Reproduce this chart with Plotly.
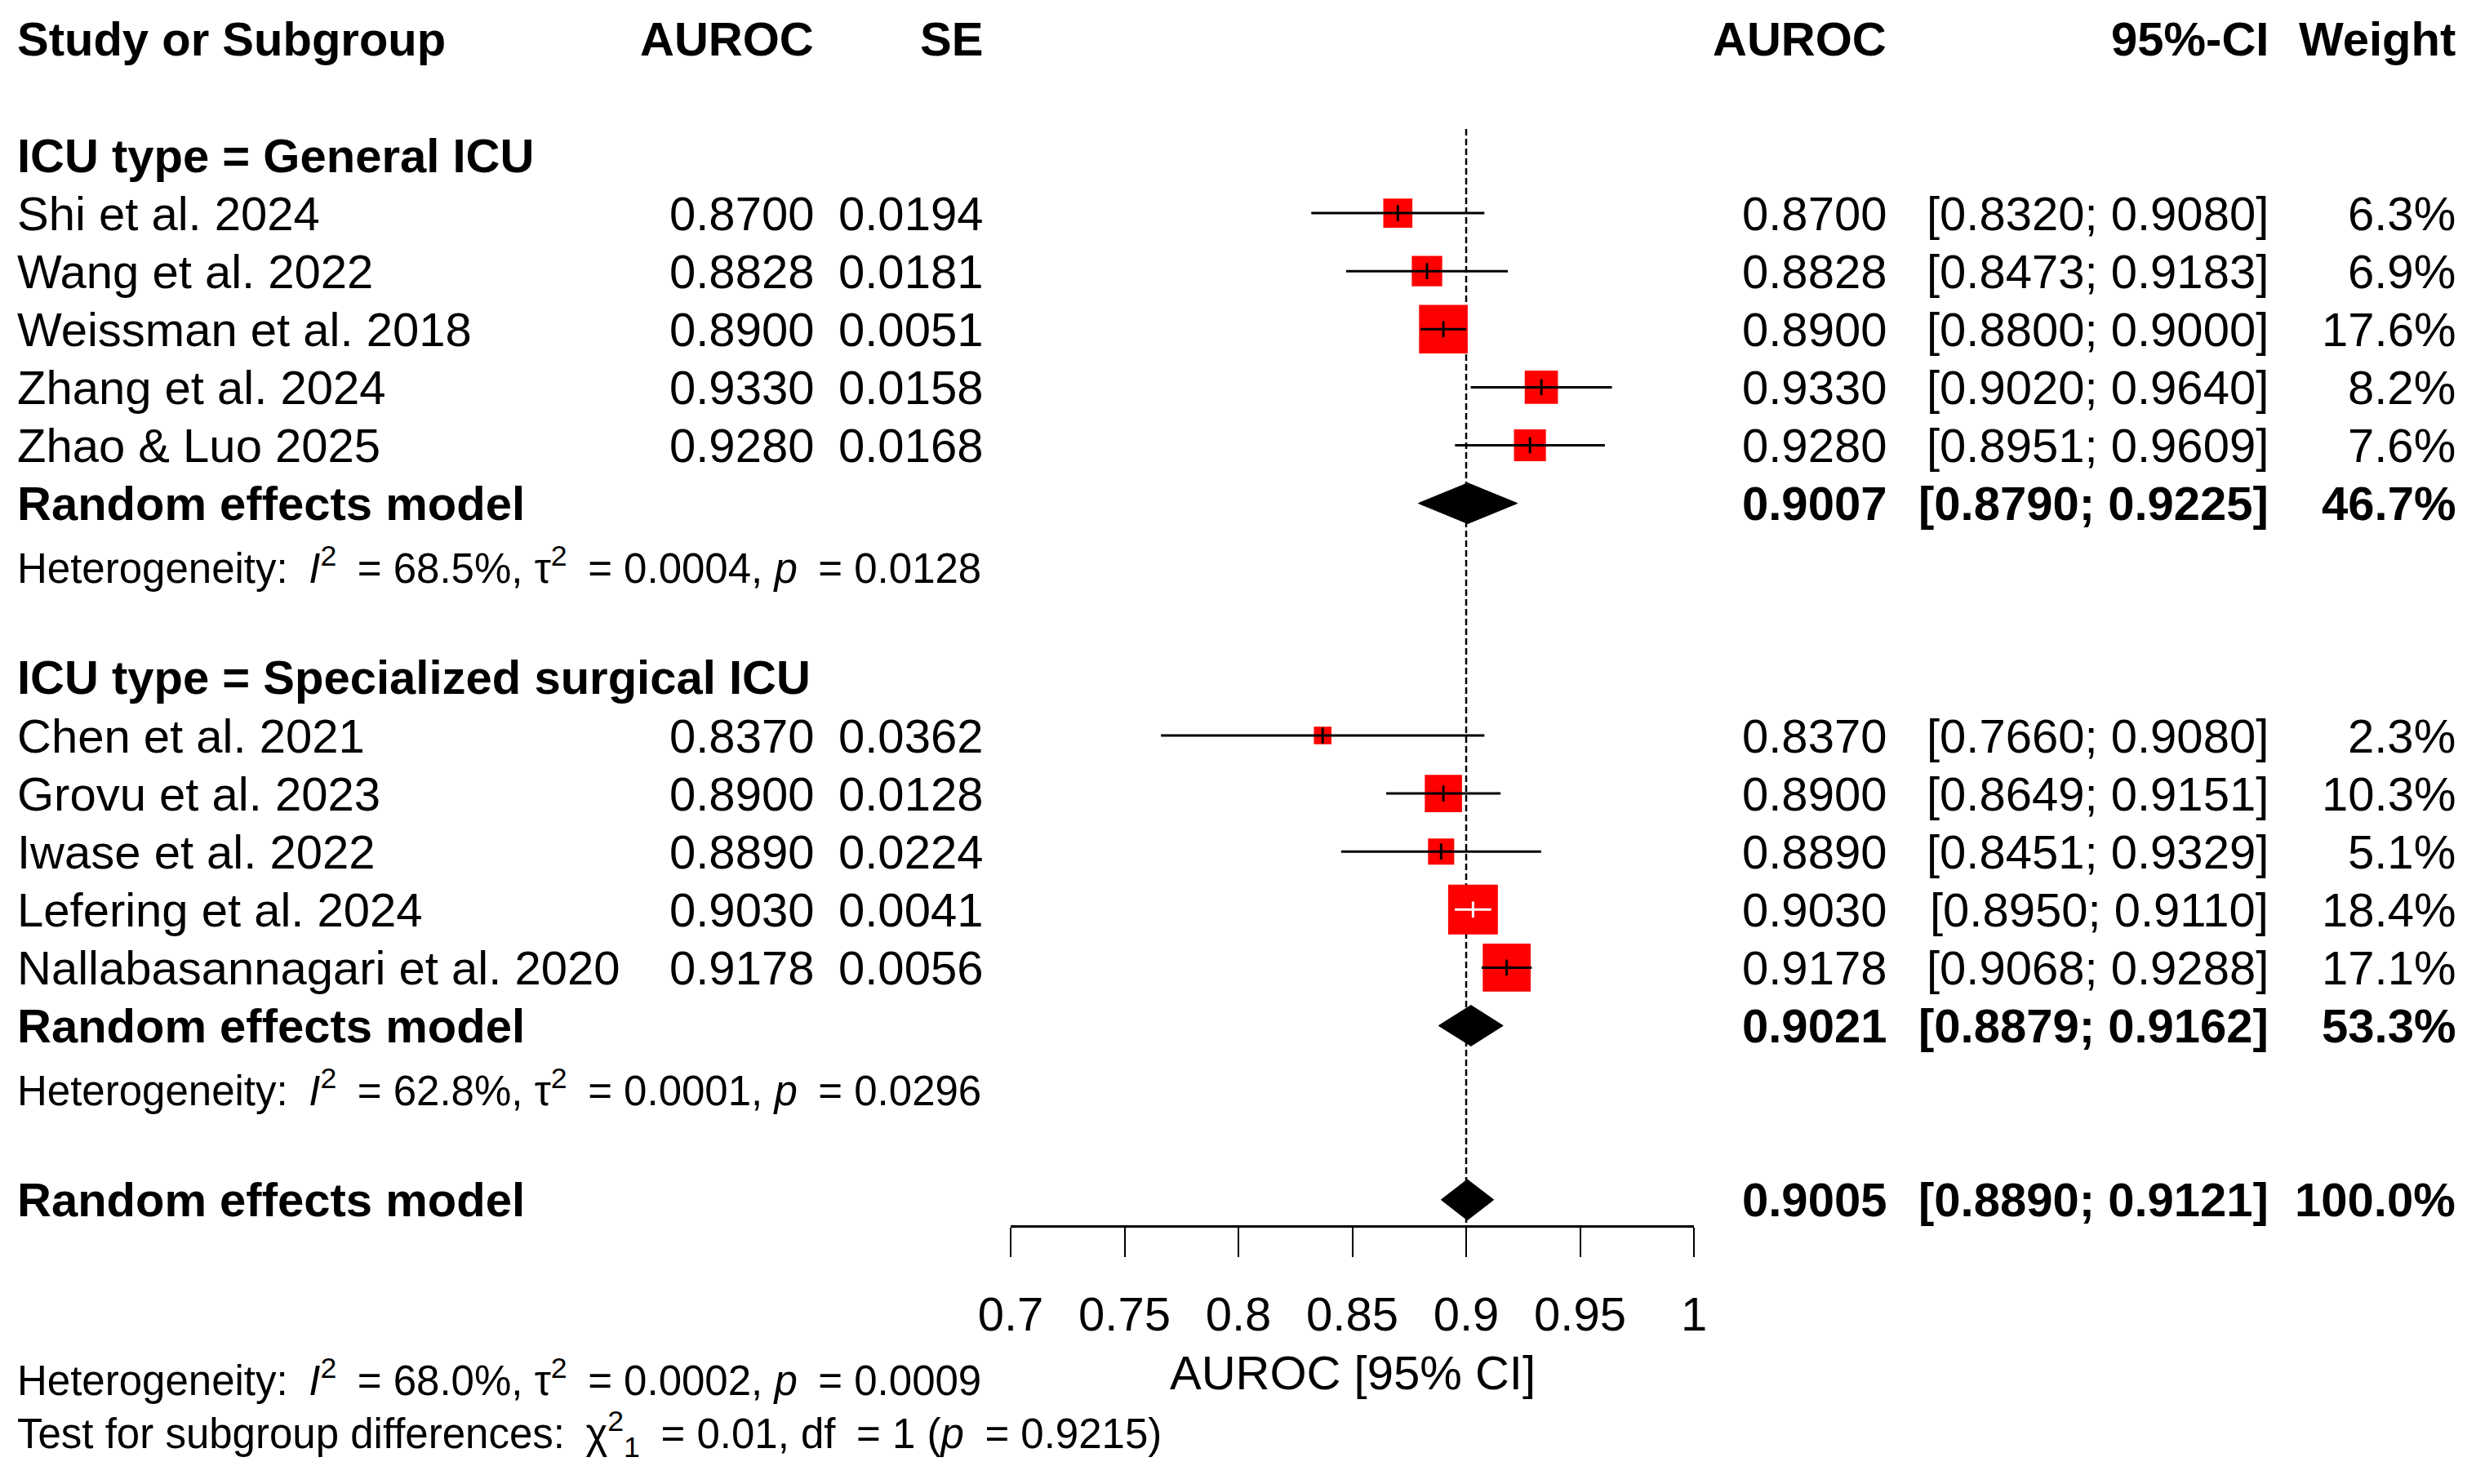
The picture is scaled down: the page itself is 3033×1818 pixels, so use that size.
"""
Forest plot: AUROC by ICU type (random effects meta-analysis)
"""
import numpy as np
import plotly.graph_objects as go

# ---------------------------------------------------------------- data
studies_general = ["Shi et al. 2024", "Wang et al. 2022", "Weissman et al. 2018",
                   "Zhang et al. 2024", "Zhao & Luo 2025"]
auroc_general = [0.8700, 0.8828, 0.8900, 0.9330, 0.9280]
se_general = [0.0194, 0.0181, 0.0051, 0.0158, 0.0168]
lower_general = [0.8320, 0.8473, 0.8800, 0.9020, 0.8951]
upper_general = [0.9080, 0.9183, 0.9000, 0.9640, 0.9609]
weight_general = [6.3, 6.9, 17.6, 8.2, 7.6]

studies_surgical = ["Chen et al. 2021", "Grovu et al. 2023", "Iwase et al. 2022",
                    "Lefering et al. 2024", "Nallabasannagari et al. 2020"]
auroc_surgical = [0.8370, 0.8900, 0.8890, 0.9030, 0.9178]
se_surgical = [0.0362, 0.0128, 0.0224, 0.0041, 0.0056]
lower_surgical = [0.7660, 0.8649, 0.8451, 0.8950, 0.9068]
upper_surgical = [0.9080, 0.9151, 0.9329, 0.9110, 0.9288]
weight_surgical = [2.3, 10.3, 5.1, 18.4, 17.1]

group_labels = ["General ICU", "Specialized surgical ICU"]
# random effects per subgroup: estimate, lower, upper, weight
re_estimate = [0.9007, 0.9021]
re_lower = [0.8790, 0.8879]
re_upper = [0.9225, 0.9162]
re_weight = [46.7, 53.3]
het_i2 = ["68.5%", "62.8%"]
het_tau2 = ["0.0004", "0.0001"]
het_p = ["0.0128", "0.0296"]

overall = [0.9005, 0.8890, 0.9121, 100.0]   # estimate, lower, upper, weight
overall_het = ["68.0%", "0.0002", "0.0009"]
subgroup_test = ["0.01", "1", "0.9215"]      # chi2, df, p

tick_values = [0.7, 0.75, 0.8, 0.85, 0.9, 0.95, 1.0]
tick_labels = ["0.7", "0.75", "0.8", "0.85", "0.9", "0.95", "1"]
ref_value = 0.9

# ---------------------------------------------------------------- layout constants
W, H = 3033, 1818
FONT = "Liberation Sans, Arial, sans-serif"
TOP_PX, ROW_PX = 47.8, 71.1          # pixel centre of row 0, pixels per row
FS, FS_SMALL = 58, 51
COL_LEFT, COL_AUROC, COL_SE = 21, 997, 1204
COL_EST, COL_CI, COL_W = 2311, 2779, 3008
AXIS_ROW = 20.45
DIAMOND_H = 0.35
BOX_K = 14.2                         # box side (px) per sqrt(weight)
white_inside = {"Lefering et al. 2024"}
SP = "\u2002"                        # wider space, as in R's plotmath


def add_text(fig, text, x, row, anchor="left", size=FS, bold=False):
    if bold:
        text = f"<b>{text}</b>"
    fig.add_annotation(text=text, x=x / W, xref="paper", y=row, yref="y",
                       xanchor=anchor, yanchor="middle", showarrow=False,
                       borderpad=0, borderwidth=0,
                       font=dict(family=FONT, size=size, color="black"))


def add_diamond(fig, est, lo, hi, row):
    fig.add_trace(go.Scatter(x=[lo, est, hi, est, lo],
                             y=[row, row - DIAMOND_H, row, row + DIAMOND_H, row],
                             mode="lines", fill="toself", fillcolor="black",
                             line=dict(color="black", width=1), hoverinfo="skip"))


def het_text(i2, tau2, p):
    return (f"Heterogeneity:{SP}<i>I</i><sup>2</sup>{SP}= {i2}, "
            f"τ<sup>2</sup>{SP}= {tau2}, <i>p</i>{SP}= {p}")


fig = go.Figure()

# reference line
fig.add_trace(go.Scatter(x=[ref_value, ref_value], y=[1.55, AXIS_ROW], mode="lines",
                         line=dict(color="black", width=2.5, dash="8px,4px"),
                         hoverinfo="skip"))

# header
add_text(fig, "Study or Subgroup", COL_LEFT, 0, bold=True)
add_text(fig, "AUROC", COL_AUROC, 0, "right", bold=True)
add_text(fig, "SE", COL_SE, 0, "right", bold=True)
add_text(fig, "AUROC", COL_EST, 0, "right", bold=True)
add_text(fig, "95%-CI", COL_CI, 0, "right", bold=True)
add_text(fig, "Weight", COL_W, 0, "right", bold=True)

groups = [
    (studies_general, auroc_general, se_general, lower_general, upper_general, weight_general),
    (studies_surgical, auroc_surgical, se_surgical, lower_surgical, upper_surgical, weight_surgical),
]

all_x, all_y, all_w, all_names, all_lo, all_hi = [], [], [], [], [], []
row = 2
for g, (names, est, se, lo, hi, wt) in enumerate(groups):
    add_text(fig, f"ICU type = {group_labels[g]}", COL_LEFT, row, bold=True)
    for i, name in enumerate(names):
        r = row + 1 + i
        add_text(fig, name, COL_LEFT, r)
        add_text(fig, f"{est[i]:.4f}", COL_AUROC, r, "right")
        add_text(fig, f"{se[i]:.4f}", COL_SE, r, "right")
        add_text(fig, f"{est[i]:.4f}", COL_EST, r, "right")
        add_text(fig, f"[{lo[i]:.4f}; {hi[i]:.4f}]", COL_CI, r, "right")
        add_text(fig, f"{wt[i]:.1f}%", COL_W, r, "right")
        all_x.append(est[i]); all_y.append(r); all_w.append(wt[i])
        all_names.append(name); all_lo.append(lo[i]); all_hi.append(hi[i])
    r = row + 1 + len(names)
    add_text(fig, "Random effects model", COL_LEFT, r, bold=True)
    add_text(fig, f"{re_estimate[g]:.4f}", COL_EST, r, "right", bold=True)
    add_text(fig, f"[{re_lower[g]:.4f}; {re_upper[g]:.4f}]", COL_CI, r, "right", bold=True)
    add_text(fig, f"{re_weight[g]:.1f}%", COL_W, r, "right", bold=True)
    add_diamond(fig, re_estimate[g], re_lower[g], re_upper[g], r)
    add_text(fig, het_text(het_i2[g], het_tau2[g], het_p[g]), COL_LEFT, r + 1.08, size=FS_SMALL)
    row = r + 3

# boxes
fig.add_trace(go.Scatter(x=all_x, y=all_y, mode="markers", hoverinfo="skip",
                         marker=dict(symbol="square", color="#ff0000", opacity=1,
                                     size=[BOX_K * np.sqrt(w) for w in all_w],
                                     line=dict(width=0))))

# confidence intervals and estimate ticks
for colour, keep in (("black", False), ("white", True)):
    xs, ys, tx, ty = [], [], [], []
    for name, x, y, lo, hi in zip(all_names, all_x, all_y, all_lo, all_hi):
        if (name in white_inside) != keep:
            continue
        xs += [lo, hi, None]; ys += [y, y, None]
        tx.append(x); ty.append(y)
    fig.add_trace(go.Scatter(x=xs, y=ys, mode="lines", hoverinfo="skip",
                             line=dict(color=colour, width=3)))
    fig.add_trace(go.Scatter(x=tx, y=ty, mode="markers", hoverinfo="skip",
                             marker=dict(symbol="line-ns", size=14,
                                         line=dict(color=colour, width=3))))

# overall
ov_row = 20
add_text(fig, "Random effects model", COL_LEFT, ov_row, bold=True)
add_text(fig, f"{overall[0]:.4f}", COL_EST, ov_row, "right", bold=True)
add_text(fig, f"[{overall[1]:.4f}; {overall[2]:.4f}]", COL_CI, ov_row, "right", bold=True)
add_text(fig, f"{overall[3]:.1f}%", COL_W, ov_row, "right", bold=True)
add_diamond(fig, overall[0], overall[1], overall[2], ov_row)

add_text(fig, het_text(*overall_het), COL_LEFT, 23.07, size=FS_SMALL)
add_text(fig, (f"Test for subgroup differences:{SP}χ<sup>2</sup><sub>{subgroup_test[1]}</sub>"
               f"{SP}= {subgroup_test[0]}, df{SP}= {subgroup_test[1]} "
               f"(<i>p</i>{SP}= {subgroup_test[2]})"),
         COL_LEFT, 24.04, size=FS_SMALL)

fig.add_annotation(text="AUROC [95% CI]", x=0.85, xref="x", y=22.98, yref="y",
                   xanchor="center", yanchor="middle", showarrow=False,
                   font=dict(family=FONT, size=FS, color="black"))

fig.update_layout(template="none", width=W, height=H, autosize=False,
                  margin=dict(l=0, r=0, t=0, b=0, pad=0, autoexpand=False),
                  paper_bgcolor="white", plot_bgcolor="white", showlegend=False,
                  font=dict(family=FONT, color="black"))
fig.update_xaxes(domain=[1238 / W, 2075 / W], range=[0.7, 1.0], automargin=False,
                 anchor="free", position=1 - (TOP_PX + AXIS_ROW * ROW_PX) / H,
                 showline=True, linecolor="black", linewidth=2.5,
                 ticks="outside", ticklen=36, tickwidth=2, tickcolor="black",
                 tickvals=tick_values, ticktext=tick_labels,
                 tickfont=dict(family=FONT, size=FS, color="black"),
                 ticklabelstandoff=21, showgrid=False, zeroline=False)
fig.update_yaxes(domain=[0, 1], range=[(H - TOP_PX) / ROW_PX, -TOP_PX / ROW_PX],
                 automargin=False, visible=False, showgrid=False, zeroline=False)

fig.write_html("out.html", config={"displayModeBar": False},
               post_script="document.body.style.margin='0';"
                           "document.body.style.overflow='hidden';")
